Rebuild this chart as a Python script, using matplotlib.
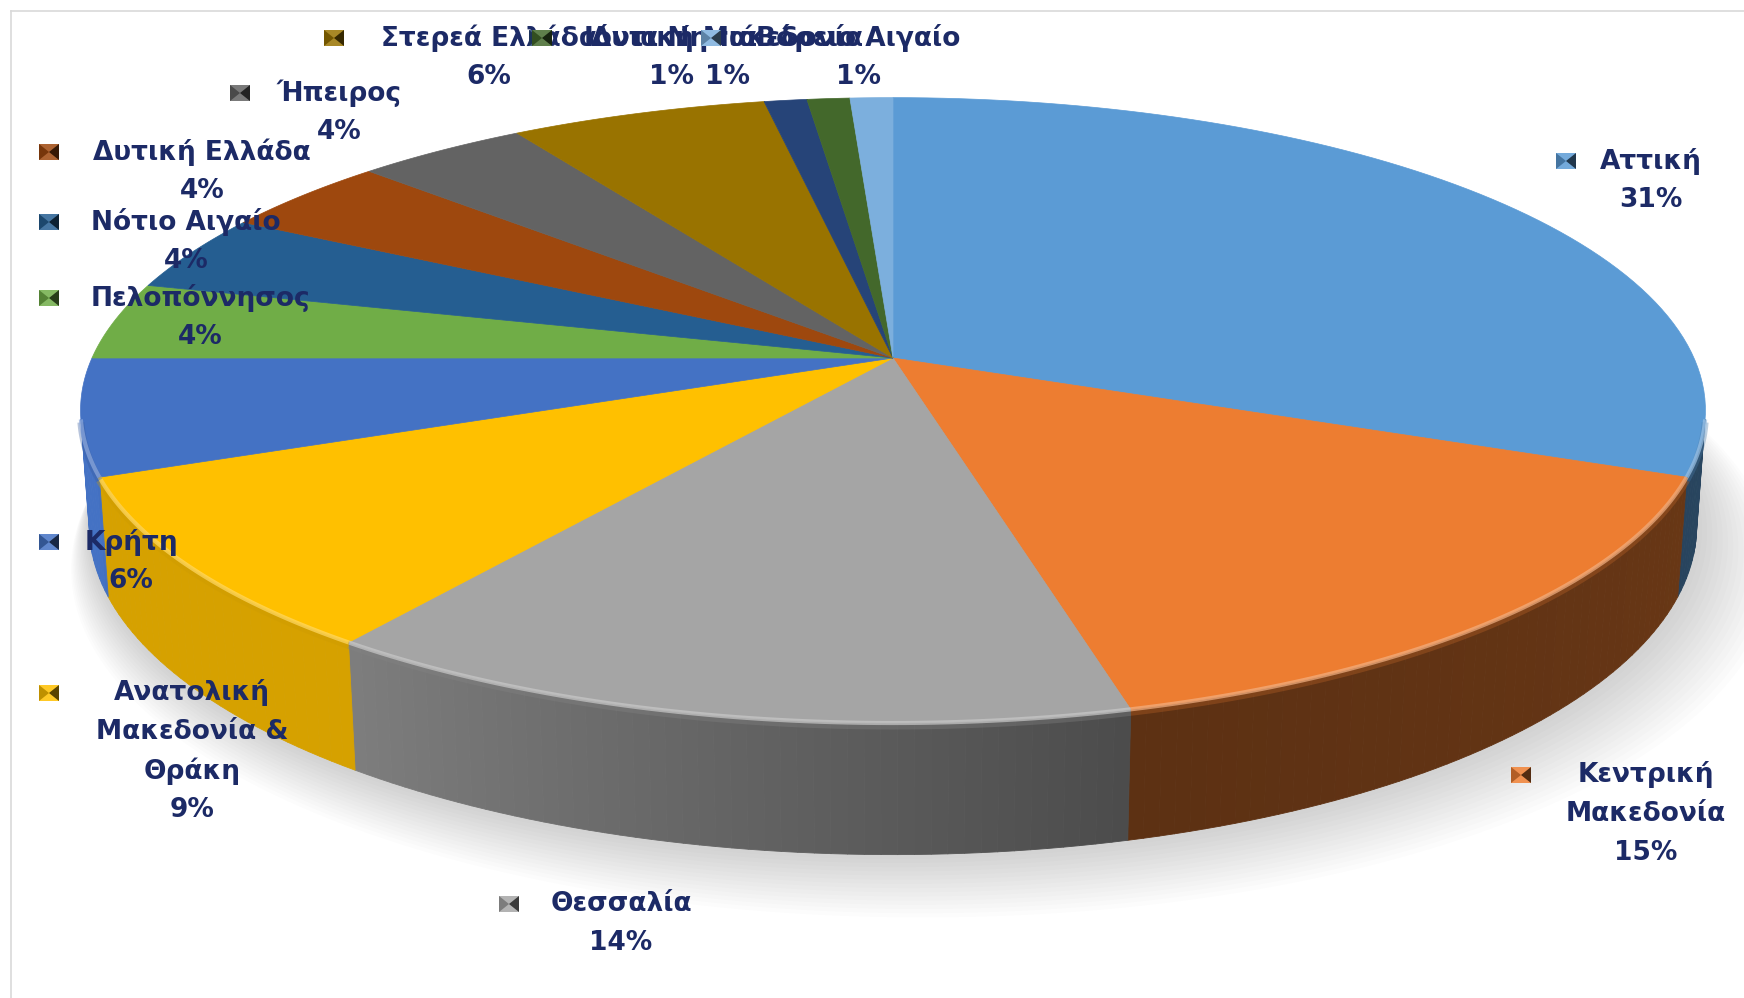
import numpy as np
import matplotlib.pyplot as plt
from matplotlib.patches import Polygon
from matplotlib.collections import PolyCollection
from matplotlib.colors import to_rgb

regions = ['Αττική', 'Κεντρική\nΜακεδονία', 'Θεσσαλία', 'Ανατολική\nΜακεδονία &\nΘράκη',
           'Κρήτη', 'Πελοπόννησος', 'Νότιο Αιγαίο', 'Δυτική Ελλάδα', 'Ήπειρος',
           'Στερεά Ελλάδα', 'Ιόνια Νησιά', 'Δυτική Μακεδονία', 'Βόρειο Αιγαίο']
shares = [31, 15, 14, 9, 6, 4, 4, 4, 4, 6, 1, 1, 1]
colors = ['#5b9bd5', '#ed7d31', '#a5a5a5', '#ffc000', '#4472c4', '#70ad47', '#255e91',
          '#9e480e', '#636363', '#997300', '#264478', '#43682b', '#7cafdd']

# label layout (first line centre, marker x), in pixels
label_pos = [(1651, 161, 1566), (1646, 775, 1521), (621, 904, 509), (192, 693, 49),
             (131, 542, 49), (200, 298, 49), (186, 222, 49), (202, 152, 49),
             (339, 93, 240), (489, 38, 334), (671, 38, 539), (727, 38, 542),
             (858, 38, 711)]
txt_color = '#1c2a66'
line_gap = 39

# 3d projection of the pie
S, D, el = 801.0, 5.53, np.radians(22.3)
cx, cy = 893.0, 358.0
h = 0.155

# side wall brightness vs angle (deg, clockwise from back)
side_deg = [100, 165.5, 166, 216, 216.5, 248, 249, 262]
side_f = [0.45, 0.39, 0.46, 0.76, 0.84, 0.84, 1.0, 1.0]


def proj(theta, z):
    X = np.sin(theta)
    Y = np.cos(theta)
    depth = D + Y * np.cos(el) - z * np.sin(el)
    sx = cx + S * X * D / depth
    sy = cy - S * (Y * np.sin(el) + z * np.cos(el)) * D / depth
    return sx, sy


def shade(c, f):
    return tuple(np.clip(np.array(to_rgb(c)) * f, 0, 1))


def lighten(c, f):
    c = np.array(to_rgb(c))
    return tuple(c + (1 - c) * f)


fig = plt.figure(figsize=(17.44, 9.98), dpi=100)
ax = fig.add_axes([0, 0, 1, 1])
ax.set_xlim(0, 1744)
ax.set_ylim(998, 0)
ax.axis('off')

# chart border
ax.plot([11, 1744], [11, 11], color='#d9d9d9', lw=1.2)
ax.plot([11, 11], [11, 998], color='#d9d9d9', lw=1.2)

# soft shadow under the pie
tt = np.linspace(0, 2 * np.pi, 300)
bx, by = proj(tt, -h)
for i in range(16):
    g = 1 + 0.004 * i
    ax.fill((bx - cx) * g + cx + 2 * i, (by - cy) * g + cy + 2.2 * i,
            color='#808080', alpha=0.022, lw=0, zorder=1)

bounds = np.concatenate([[0], np.cumsum(shares)]) / np.sum(shares) * 2 * np.pi
vis_lim = np.arccos(-1 / (D * np.cos(el)))
vis_a, vis_b = vis_lim, 2 * np.pi - vis_lim

# side walls
for i, c in enumerate(colors):
    a0, a1 = max(bounds[i], vis_a), min(bounds[i + 1], vis_b)
    if a1 <= a0:
        continue
    th = np.linspace(a0, a1, max(int(np.degrees(a1 - a0)), 2) + 1)
    polys, fcs = [], []
    for t0, t1 in zip(th[:-1], th[1:]):
        x0, y0 = proj(t0, 0)
        x1, y1 = proj(t1, 0)
        x2, y2 = proj(t1, -h)
        x3, y3 = proj(t0, -h)
        polys.append([(x0, y0), (x1, y1), (x2, y2), (x3, y3)])
        f = np.interp(np.degrees(0.5 * (t0 + t1)), side_deg, side_f)
        fcs.append(shade(c, f))
    ax.add_collection(PolyCollection(polys, facecolors=fcs, edgecolors=fcs,
                                     linewidths=0.6, zorder=2))

# top faces
for i, c in enumerate(colors):
    th = np.linspace(bounds[i], bounds[i + 1], 80)
    x, y = proj(th, 0)
    pts = np.column_stack([np.r_[cx, x], np.r_[cy, y]])
    ax.add_patch(Polygon(pts, closed=True, facecolor=c, edgecolor=c, lw=0.5, zorder=3))
    a0, a1 = max(bounds[i], vis_a), min(bounds[i + 1], vis_b)
    if a1 > a0:
        th = np.linspace(a0, a1, 60)
        x, y = proj(th, 0)
        ax.plot(x, y + 3, color=shade(c, 0.8), lw=5, alpha=0.35, zorder=4,
                solid_capstyle='butt')
        ax.plot(x, y, color=lighten(c, 0.4), lw=3, alpha=0.7, zorder=4,
                solid_capstyle='butt')

# data labels with legend keys
for name, v, c, (lx, ly, mx) in zip(regions, shares, colors, label_pos):
    lines = name.split('\n') + [f'{v}%']
    for k, ln in enumerate(lines):
        ax.text(lx, ly + k * line_gap, ln, ha='center', va='center', fontsize=19,
                fontweight='bold', color=txt_color, family='DejaVu Sans', zorder=6)
    s, t = 10, 8
    ax.add_patch(Polygon([(mx - s, ly - t), (mx + s, ly - t), (mx + s, ly + t), (mx - s, ly + t)],
                         facecolor=lighten(c, 0.15), edgecolor='none', zorder=6))
    ax.add_patch(Polygon([(mx - s, ly - t), (mx, ly), (mx - s, ly + t)],
                         facecolor=shade(c, 0.75), edgecolor='none', zorder=6))
    ax.add_patch(Polygon([(mx + s, ly - t), (mx, ly), (mx + s, ly + t)],
                         facecolor=shade(c, 0.35), edgecolor='none', zorder=6))

fig.savefig('out.png', dpi=100)
